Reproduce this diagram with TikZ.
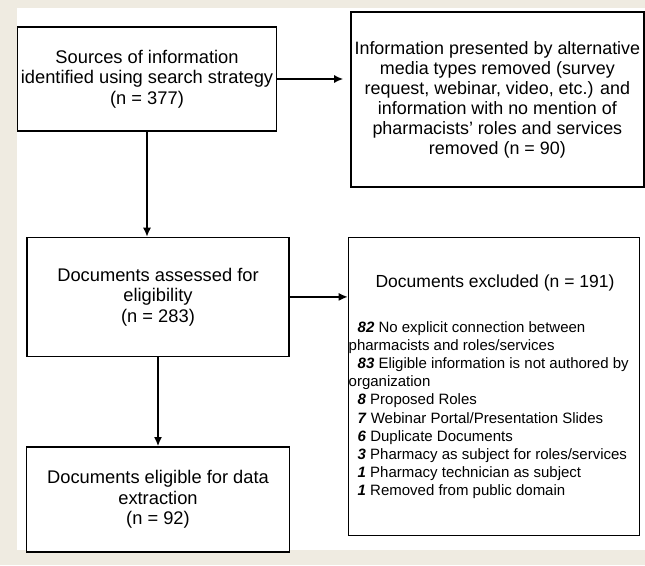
\documentclass[tikz,border=0pt]{standalone}
\usepackage{fontspec}
\setmainfont{Liberation Sans}
\usetikzlibrary{arrows.meta,positioning,calc}
\definecolor{paper}{RGB}{239,235,225}
\newcommand{\bnum}[1]{\textbf{\textit{#1}}}
\tikzset{
block/.style = {draw, fill=white, rectangle, line width=1.4pt, align=center, font=\fontsize{18.3}{20.5}\selectfont},
title/.style = {inner sep=0pt, font=\fontsize{17.5}{20}\selectfont},
list/.style  = {inner sep=0pt, align=left, font=\fontsize{15}{18.1}\selectfont}
}

\begin{document}
\begin{tikzpicture}[x=1pt, y=-1pt, line width=1.4pt, >={Latex[length=9pt,width=8pt]}]
  \useasboundingbox (0,0) rectangle (645,565);
  \fill [paper] (0,0) rectangle (645,565);
  \fill [white] (17,8) rectangle (645,550);

  \node [block, minimum width=253pt, minimum height=104pt]                     (sources)  at (147,79) {Sources of information\\identified using search strategy\\(n = 377)};
  \node [block, minimum width=293pt, minimum height=175pt, inner sep=1pt, font=\fontsize{17.9}{20}\selectfont, right=73pt of sources, yshift=-20.5pt] (removed)  {Information presented by alternative\\media types removed (survey\\request, webinar, video, etc.) and\\information with no mention of\\pharmacists' roles and services\\removed (n = 90)};
  \node [block, minimum width=262pt, minimum height=119pt, below=105pt of sources, xshift=11pt] (assessed) {Documents assessed for\\eligibility\\(n = 283)};
  \node [block, minimum width=291pt, minimum height=298pt, right=58pt of assessed, yshift=-89.5pt] (excluded) {};
  \node [block, minimum width=263pt, minimum height=105pt, below=89pt of assessed]                (eligible) {Documents eligible for data\\extraction\\(n = 92)};

  % text inside the exclusion box
  \node [title]                    (extitle) at (495,283)   {Documents excluded (n = 191)};
  \node [list, anchor=north west]  (exlist)  at (348,321)   {\hspace*{9pt}\bnum{82} No explicit connection between\\
    pharmacists and roles/services\\
    \hspace*{9pt}\bnum{83} Eligible information is not authored by\\
    organization\\
    \hspace*{9pt}\bnum{8} Proposed Roles\\
    \hspace*{9pt}\bnum{7} Webinar Portal/Presentation Slides\\
    \hspace*{9pt}\bnum{6} Duplicate Documents\\
    \hspace*{9pt}\bnum{3} Pharmacy as subject for roles/services\\
    \hspace*{9pt}\bnum{1} Pharmacy technician as subject\\
    \hspace*{9pt}\bnum{1} Removed from public domain};

  \draw [->, shorten >=7pt] (sources) -- (sources -| removed.west);
  \draw [->] (sources) -- (sources |- assessed.north);
  \draw [->] (assessed) -- (assessed -| excluded.west);
  \draw [->] (assessed.south) -- (assessed.south |- eligible.north);
\end{tikzpicture}
\end{document}
